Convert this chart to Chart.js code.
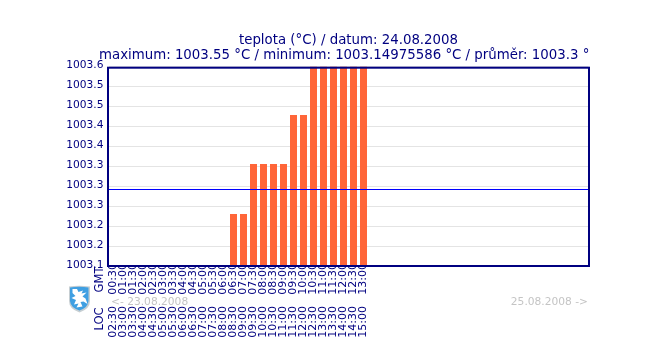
<!DOCTYPE html>
<html>
<head>
<meta charset="utf-8">
<title>teplota</title>
<script src="https://cdn.jsdelivr.net/npm/chart.js@4/dist/chart.umd.min.js"></script>
<style>
    html, body { margin: 0; padding: 0; background: #fff; }
    #wrap { position: relative; width: 658px; height: 354px; overflow: hidden; }
    #logo { position: absolute; left: 68px; top: 285px; filter: blur(0.35px); }
</style>
</head>
<body>
<div id="wrap">
    <canvas id="chart" width="658" height="354"></canvas>
    <svg id="logo" width="23" height="28" viewBox="0 0 23 28">
        <path d="M1 1.5 Q11 0 22 1.5 L22 16 Q22 24 11.5 27.5 Q1 24 1 16 Z" fill="#c6ced2"/>
        <path d="M2 2.5 Q11 1 20.5 2.5 L20.5 16 Q20 22.5 11.5 25.5 Q2.5 22.5 2 16 Z" fill="#3f9fe2"/>
        <path d="M4.5 4 L9 4 L10.5 7 L15 5.5 L13.5 8.5 L18.5 7.5 L14.5 11.5 L17.5 13.5 L19.5 19 L15.5 16.5 L12.5 17 L14.5 21.5 L8.5 22.5 L10.5 18.5 L6 19.5 L8 15 L3.5 13 L7.5 11 L4.5 8 Z" fill="#fff"/>
    </svg>
</div>
<script>
const gmtLabels = ["00:30", "01:00", "01:30", "02:00", "02:30", "03:00", "03:30", "04:00", "04:30", "05:00", "05:30", "06:00", "06:30", "07:00", "07:30", "08:00", "08:30", "09:00", "09:30", "10:00", "10:30", "11:00", "11:30", "12:00", "12:30", "13:00"];
const locLabels = ["02:30", "03:00", "03:30", "04:00", "04:30", "05:00", "05:30", "06:00", "06:30", "07:00", "07:30", "08:00", "08:30", "09:00", "09:30", "10:00", "10:30", "11:00", "11:30", "12:00", "12:30", "13:00", "13:30", "14:00", "14:30", "15:00"];
const teplota = [1003.15, 1003.15, 1003.15, 1003.15, 1003.15, 1003.15, 1003.15, 1003.15, 1003.15, 1003.15, 1003.15, 1003.15, 1003.255, 1003.255, 1003.355, 1003.355, 1003.355, 1003.355, 1003.453, 1003.453, 1003.55, 1003.55, 1003.55, 1003.55, 1003.55, 1003.55];
const emptySlots = 22; // rest of the day, no data yet

const prumer = 1003.304;
const yMin = 1003.14975586;
const yMax = 1003.55;
const yTickValues = [1003.14975586, 1003.19, 1003.23, 1003.27, 1003.31, 1003.35, 1003.39, 1003.43, 1003.47, 1003.51, 1003.55];
const yTickLabels = ["1003.1", "1003.2", "1003.2", "1003.3", "1003.3", "1003.3", "1003.4", "1003.4", "1003.5", "1003.5", "1003.6"];

const titleLine1 = "teplota (°C) / datum: 24.08.2008";
const titleLine2 = "maximum: 1003.55 °C / minimum: 1003.14975586 °C / průměr: 1003.3 °";

const NAVY = "#000080";
const FONT = "'DejaVu Sans', Verdana, sans-serif";
const blanks = new Array(emptySlots).fill("");

const overlay = {
    id: "overlay",
    // dates sit under the LOC tick labels
    beforeDraw(chart) {
        const ctx = chart.ctx;
        ctx.save();
        ctx.fillStyle = "#c4c4c4";
        ctx.font = "10.67px " + FONT;
        ctx.textBaseline = "middle";
        ctx.textAlign = "left";
        ctx.fillText("<- 23.08.2008", 111, 302);
        ctx.textAlign = "right";
        ctx.fillText("25.08.2008 ->", 588, 302);
        ctx.restore();
    },
    afterDatasetsDraw(chart) {
        const { ctx, chartArea } = chart;
        const y = Math.floor(chart.scales.y.getPixelForValue(prumer)) + 0.5;
        ctx.save();
        ctx.strokeStyle = "#0000ff";
        ctx.lineWidth = 1;
        ctx.beginPath();
        ctx.moveTo(chartArea.left, y);
        ctx.lineTo(chartArea.right, y);
        ctx.stroke();

        ctx.strokeStyle = NAVY;
        ctx.lineWidth = 2;
        ctx.strokeRect(108, 67.7, 481, 198.3);

        ctx.fillStyle = NAVY;
        ctx.textBaseline = "middle";
        ctx.font = "13.33px " + FONT;
        ctx.textAlign = "center";
        ctx.fillText(titleLine1, 348.5, 41);
        ctx.textAlign = "left";
        ctx.fillText(titleLine2, 99, 56);

        ctx.font = "11.5px " + FONT;
        ctx.textAlign = "center";
        [["GMT", 279.5], ["LOC", 319]].forEach(([text, pos]) => {
            ctx.save();
            ctx.translate(100, pos);
            ctx.rotate(-Math.PI / 2);
            ctx.fillText(text, 0, 0);
            ctx.restore();
        });
        ctx.restore();
    },
};

const timeAxis = (labels, height, padding) => ({
    type: "category",
    position: "bottom",
    labels: labels.concat(blanks),
    offset: true,
    grid: { display: false, drawTicks: false },
    border: { display: false },
    ticks: {
        autoSkip: false,
        maxRotation: 90,
        minRotation: 90,
        padding: padding,
        color: NAVY,
        font: { family: FONT, size: 11 },
    },
    afterFit: (scale) => { scale.height = height; },
});

new Chart(document.getElementById("chart"), {
    type: "bar",
    data: {
        labels: gmtLabels.concat(blanks),
        datasets: [
            {
                label: "teplota",
                data: teplota,
                backgroundColor: "#ff6639",
                barThickness: 7,
                inflateAmount: 0,
                xAxisID: "x",
            },
        ],
    },
    options: {
        responsive: false,
        animation: false,
        layout: { padding: { top: 66.5, right: 69.5, bottom: 0, left: 0.5 } },
        plugins: { legend: { display: false }, tooltip: { enabled: false } },
        scales: {
            x: timeAxis(gmtLabels, 39.5, -3.5),
            xLoc: timeAxis(locLabels, 48, 0),
            y: {
                min: yMin,
                max: yMax,
                afterBuildTicks: (axis) => { axis.ticks = yTickValues.map((value) => ({ value })); },
                afterFit: (scale) => { scale.width = 108; },
                grid: { color: "#e4e4e4", drawTicks: false },
                border: { display: false },
                ticks: {
                    color: NAVY,
                    padding: 5,
                    labelOffset: -1.5,
                    font: { family: FONT, size: 10.67 },
                    callback: (value, index) => yTickLabels[index],
                },
            },
        },
    },
    plugins: [overlay],
});
</script>
</body>
</html>
